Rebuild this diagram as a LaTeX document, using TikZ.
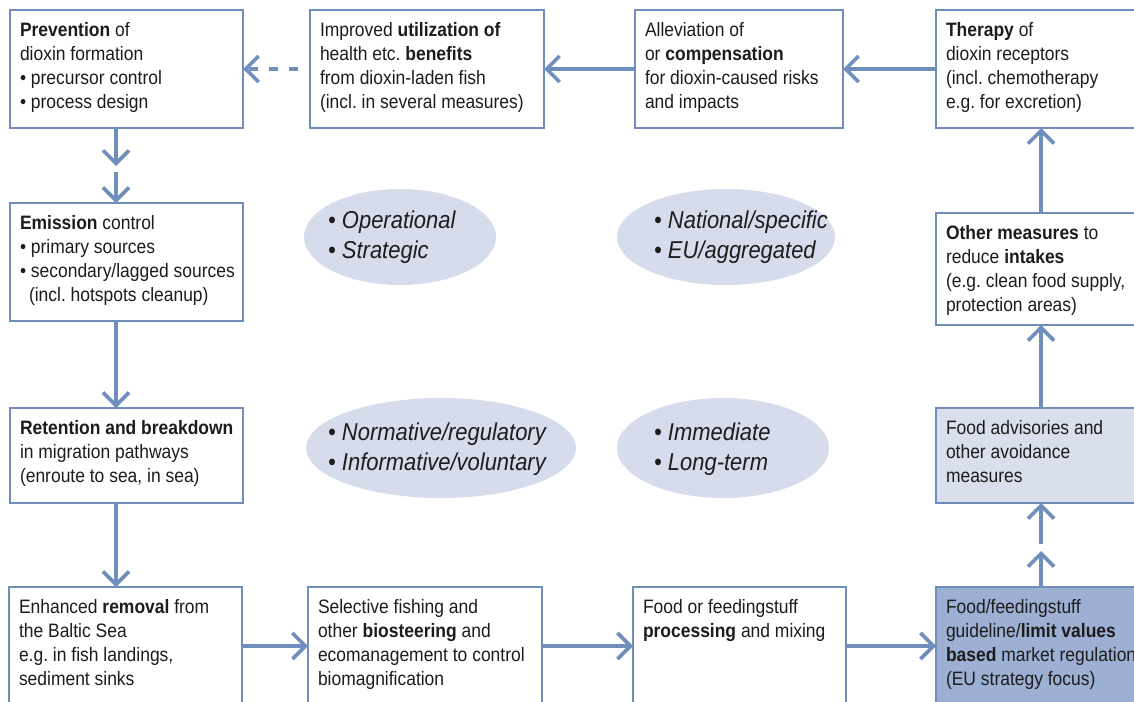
\documentclass[tikz,border=0pt]{standalone}
\usepackage{fontspec}
\setmainfont[FakeStretch=0.9]{Liberation Sans}
\usetikzlibrary{arrows.meta,shapes.geometric}
\frenchspacing

\definecolor{edge}{RGB}{112,142,188}
\definecolor{advfill}{RGB}{217,223,237}
\definecolor{limfill}{RGB}{156,176,211}
\definecolor{ovalfill}{RGB}{214,220,236}
\definecolor{ink}{RGB}{30,27,28}

% top-aligned box body: width, height, lines separated by \\
\newcommand\boxtext[3]{\parbox[c][#2][t]{#1}{\hspace*{10pt}\begin{tabular}[t]{@{}l@{}}\rule{0pt}{26pt}#3\end{tabular}}}
\newcommand\ovaltext[1]{\begin{tabular}{@{}l@{}}#1\end{tabular}}

\tikzset{
  stepbox/.style={draw=edge, line width=2.8pt, anchor=north west, inner sep=0pt, outer sep=0pt,
                  text=ink, font=\fontsize{19.4}{24}\selectfont},
  oval/.style={ellipse, fill=ovalfill, draw=none, inner sep=0pt},
  ovallabel/.style={anchor=west, inner sep=0pt, text=ink, font=\fontsize{24.4}{30}\selectfont\itshape},
  flow/.style={draw=edge, line width=3.6pt, -{Straight Barb[length=13pt,width=26pt]}},
}

\begin{document}
\begin{tikzpicture}[x=1pt, y=-1pt]
\useasboundingbox (0,0) rectangle (1134,701);
\clip (0,0) rectangle (1134,701);

% column guides for the vertical flows
\coordinate (colA) at (116,0);
\coordinate (colB) at (1041,0);

% ellipses with the classification labels
\node[oval, minimum width=192pt, minimum height=96pt] (e1) at (400,237) {};
\node[oval, minimum width=218pt, minimum height=96pt] (e2) at (726,237) {};
\node[oval, minimum width=270pt, minimum height=100pt] (e3) at (441,448) {};
\node[oval, minimum width=212pt, minimum height=100pt] (e4) at (723,448) {};
\node[ovallabel] (e1t) at (328,237) {\ovaltext{• Operational\\• Strategic}};
\node[ovallabel] (e2t) at (654,237) {\ovaltext{• National/specific\\• EU/aggregated}};
\node[ovallabel] (e3t) at (328,449) {\ovaltext{• Normative/regulatory\\• Informative/voluntary}};
\node[ovallabel] (e4t) at (654,449) {\ovaltext{• Immediate\\• Long-term}};

% top row
\node[stepbox] (prev) at (10,10) {\boxtext{233pt}{118pt}{\textbf{Prevention} of\\dioxin formation\\• precursor control\\• process design}};
\node[stepbox] (util) at (310,10) {\boxtext{234pt}{118pt}{Improved \textbf{utilization of}\\health etc. \textbf{benefits}\\from dioxin-laden fish\\(incl. in several measures)}};
\node[stepbox] (allev) at (635,10) {\boxtext{208pt}{118pt}{Alleviation of\\or \textbf{compensation}\\for dioxin-caused risks\\and impacts}};
\node[stepbox] (ther) at (936,10) {\boxtext{240pt}{118pt}{\textbf{Therapy} of\\dioxin receptors\\(incl. chemotherapy\\e.g. for excretion)}};

% left column
\node[stepbox] (emis) at (10,203) {\boxtext{233pt}{118pt}{\textbf{Emission} control\\• primary sources\\• secondary/lagged sources\\\hspace*{9pt}(incl. hotspots cleanup)}};
\node[stepbox] (reten) at (10,408) {\boxtext{233pt}{95pt}{\textbf{Retention and breakdown}\\in migration pathways\\(enroute to sea, in sea)}};

% right column
\node[stepbox] (other) at (936,213) {\boxtext{240pt}{112pt}{\textbf{Other measures} to\\reduce \textbf{intakes}\\(e.g. clean food supply,\\protection areas)}};
\node[stepbox, fill=advfill] (advis) at (936,408) {\boxtext{240pt}{95pt}{Food advisories and\\other avoidance\\measures}};

% bottom row
\node[stepbox] (remov) at (9,587) {\boxtext{233pt}{118pt}{Enhanced \textbf{removal} from\\the Baltic Sea\\e.g. in fish landings,\\sediment sinks}};
\node[stepbox] (selec) at (308,587) {\boxtext{234pt}{118pt}{Selective fishing and\\other \textbf{biosteering} and\\ecomanagement to control\\biomagnification}};
\node[stepbox] (proc) at (633,587) {\boxtext{213pt}{118pt}{Food or feedingstuff\\\textbf{processing} and mixing}};
\node[stepbox, fill=limfill] (limit) at (936,587) {\boxtext{240pt}{118pt}{Food/feedingstuff\\guideline/\textbf{limit values}\\\textbf{based} market regulation\\(EU strategy focus)}};

% free ends of the split and dashed arrows
\coordinate (dstart) at (298,69);
\coordinate (m1) at (116,166);
\coordinate (m2) at (116,172);
\coordinate (m3) at (1041,551);
\coordinate (m4) at (1041,544);

% flows along the top row
\draw[flow, dash pattern=on 9pt off 11pt] (dstart) -- (prev.east);
\draw[flow] (allev.west) -- (util.east);
\draw[flow] (ther.west |- allev.east) -- (allev.east);

% flows down the left column
\draw[flow] (prev.south -| colA) -- (m1);
\draw[flow] (m2) -- (emis.north -| colA);
\draw[flow] (emis.south -| colA) -- (reten.north -| colA);
\draw[flow] (reten.south -| colA) -- (remov.north -| colA);

% flows along the bottom row
\draw[flow] (remov.east) -- (selec.west);
\draw[flow] (selec.east) -- (proc.west);
\draw[flow] (proc.east) -- (limit.west);

% flows up the right column
\draw[flow] (limit.north -| colB) -- (m3);
\draw[flow] (m4) -- (advis.south -| colB);
\draw[flow] (advis.north -| colB) -- (other.south -| colB);
\draw[flow] (other.north -| colB) -- (ther.south -| colB);
\end{tikzpicture}
\end{document}
